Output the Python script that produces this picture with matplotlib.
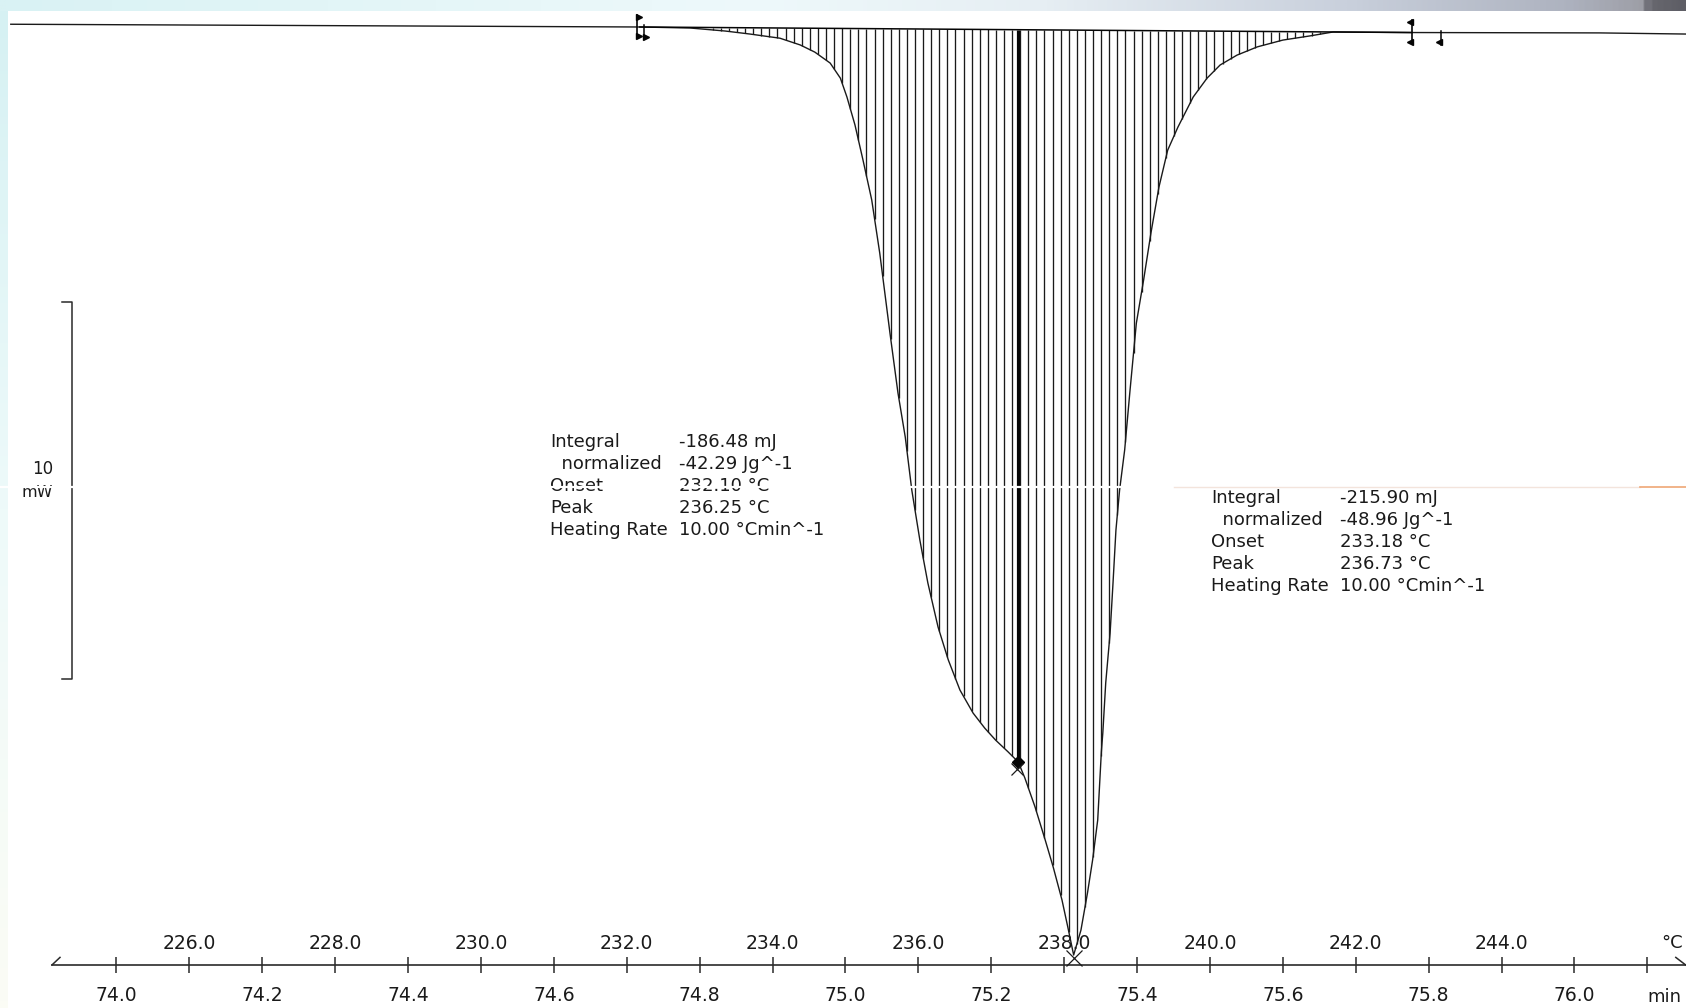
import numpy as np
import matplotlib
matplotlib.use("Agg")
import matplotlib.pyplot as plt
import matplotlib.transforms as mtransforms
from matplotlib.colors import LinearSegmentedColormap

plt.rcParams['font.family'] = ['DejaVu Sans']

# DSC curve, time in min, heat flow in mW
time_min = [73.855, 74.718, 74.787, 74.835, 74.869, 74.910, 74.938, 74.958, 74.979, 74.993,
            75.002, 75.013, 75.024, 75.036, 75.047, 75.061, 75.072, 75.082, 75.091, 75.102,
            75.113, 75.127, 75.141, 75.157, 75.175, 75.191, 75.206, 75.223, 75.237, 75.246,
            75.260, 75.274, 75.285, 75.297, 75.305, 75.313, 75.323, 75.332, 75.339, 75.346,
            75.351, 75.353, 75.357, 75.363, 75.367, 75.371, 75.376, 75.383, 75.390, 75.399,
            75.409, 75.419, 75.430, 75.442, 75.456, 75.477, 75.496, 75.514, 75.537, 75.565,
            75.600, 75.637, 75.669, 75.777, 76.035, 76.153]
heat_flow_mw = [0.10, 0.027, 0.0, -0.08, -0.16, -0.27, -0.45, -0.64, -0.93, -1.33,
                -1.83, -2.57, -3.50, -4.56, -5.97, -8.09, -9.68, -10.85, -12.26, -13.58,
                -14.72, -15.89, -16.76, -17.56, -18.17, -18.57, -18.89, -19.20, -19.47, -19.89,
                -20.66, -21.54, -22.26, -23.13, -23.85, -24.59, -23.93, -22.94, -22.07, -21.01,
                -19.20, -18.70, -17.37, -16.05, -14.72, -13.32, -12.26, -11.19, -9.68, -7.83,
                -6.68, -5.44, -4.22, -3.24, -2.63, -1.83, -1.33, -0.98, -0.72, -0.50,
                -0.32, -0.21, -0.105, -0.12, -0.13, -0.16]

# integration limits and baseline levels at those limits
limit_min = [74.718, 75.777]
limit_mw = [0.027, -0.12]
split_min = 75.237

# axes ticks: minutes below the line, program temperature above
minute_ticks = [74.0, 74.2, 74.4, 74.6, 74.8, 75.0, 75.2, 75.4, 75.6, 75.8, 76.0]
minute_labels = ['74.0', '74.2', '74.4', '74.6', '74.8', '75.0', '75.2', '75.4', '75.6', '75.8', '76.0']
temp_ticks = [226, 228, 230, 232, 234, 236, 238, 240, 242, 244, 246]
temp_labels = ['226.0', '228.0', '230.0', '232.0', '234.0', '236.0', '238.0', '240.0', '242.0', '244.0', '']

scale_bar_mw = 10
scale_mid_mw = -12.27
ref_line_mw = -12.17

result_labels = ['Integral', '  normalized', 'Onset', 'Peak', 'Heating Rate']
first_values = ['-186.48 mJ', '-42.29 Jg^-1', '232.10 °C', '236.25 °C', '10.00 °Cmin^-1']
second_values = ['-215.90 mJ', '-48.96 Jg^-1', '233.18 °C', '236.73 °C', '10.00 °Cmin^-1']

ink = '#1a1a1a'

fig = plt.figure(figsize=(16.86, 10.08), dpi=100)

# slide background: gradient band on top, pale strip on the left
bg = fig.add_axes([0, 0, 1, 1], zorder=0)
band = LinearSegmentedColormap.from_list('band', [
    (0.0, '#d9f2f4'), (0.45, '#eef9fb'), (0.62, '#e6eef3'), (0.8, '#c9d0dc'),
    (0.93, '#aeb3c0'), (0.978, '#9d9ea6'), (0.981, '#68686f'), (1.0, '#5e5e66')])
bg.imshow(np.linspace(0, 1, 600)[None, :], cmap=band, aspect='auto',
          extent=(0, 1, 1 - 11 / 1008, 1))
strip = LinearSegmentedColormap.from_list('strip', ['#d6f1f3', '#eefafa', '#fbfcf5'])
bg.imshow(np.linspace(0, 1, 300)[:, None], cmap=strip, aspect='auto',
          extent=(0, 8 / 1686, 0, 1 - 11 / 1008))
bg.set_xlim(0, 1)
bg.set_ylim(0, 1)
bg.axis('off')

ax = fig.add_axes([0, 0, 1, 1], zorder=1)
ax.patch.set_alpha(0)
ax.set_xlim(73.8402, 76.1530)
ax.set_ylim(-25.995, 0.743)

# hatching between the integration baseline and the signal
hatch_t = np.arange(limit_min[0], limit_min[1], 0.0111)
sig = np.interp(hatch_t, time_min, heat_flow_mw)
base = np.interp(hatch_t, limit_min, limit_mw)
keep = base - sig > 0.05
ax.vlines(hatch_t[keep], sig[keep], base[keep], color=ink, lw=0.95, zorder=2)

split_sig = np.interp(split_min, time_min, heat_flow_mw)
split_base = np.interp(split_min, limit_min, limit_mw)
ax.vlines(split_min, split_sig, split_base, color='#050505', lw=2.3, zorder=3)

ax.plot(time_min, heat_flow_mw, color=ink, lw=1.0, zorder=3)
ax.plot(limit_min, limit_mw, color='#050505', lw=1.1, zorder=3)

# shoulder and peak marks
down7 = mtransforms.offset_copy(ax.transData, fig=fig, y=-7, units='dots')
ax.plot(split_min, split_sig, marker='D', ms=6, color='#050505', zorder=4)
ax.plot(split_min - 0.002, split_sig, marker='x', ms=9, mew=0.9, color=ink,
        transform=down7, zorder=4)
ipk = int(np.argmin(heat_flow_mw))
down3 = mtransforms.offset_copy(ax.transData, fig=fig, y=-3, units='dots')
ax.plot(time_min[ipk], heat_flow_mw[ipk], marker='x', ms=11, mew=0.9, color=ink,
        transform=down3, zorder=4)

# integration limit flags
for t0, lv, side in [(limit_min[0], limit_mw[0], 1), (limit_min[1], limit_mw[1], -1)]:
    tri = '>' if side > 0 else '<'
    t_a = t0 - 0.004 if side > 0 else t0
    t_b = t0 + 0.006 if side > 0 else t0 + 0.040
    ax.plot([t_a, t_a], [lv + 0.33, lv - 0.30], color='#050505', lw=1.2, zorder=4)
    ax.plot([t_a + 0.003 * side] * 2, [lv + 0.27, lv - 0.24], ls='none', marker=tri,
            ms=4.5, color='#050505', zorder=4)
    ax.plot([t_b, t_b], [lv + 0.05, lv - 0.32], color='#050505', lw=1.1, zorder=4)
    ax.plot(t_b + 0.003 * side, lv - 0.26, ls='none', marker=tri, ms=4.5,
            color='#050505', zorder=4)

# 10 mW scale bar
bar_t = 73.939
ax.plot([bar_t - 0.0137, bar_t, bar_t, bar_t - 0.0137],
        [scale_mid_mw + scale_bar_mw / 2, scale_mid_mw + scale_bar_mw / 2,
         scale_mid_mw - scale_bar_mw / 2, scale_mid_mw - scale_bar_mw / 2],
        color='#2a2a2a', lw=1.1, zorder=3)
ax.text(73.9129, scale_mid_mw + 0.58, str(scale_bar_mw), ha='right', va='center',
        fontsize=12, color=ink)
ax.text(73.9129, scale_mid_mw - 0.04, 'mW', ha='right', va='center',
        fontsize=11.5, color=ink)

# result boxes
for x_lab, x_val, y_mid, values in [(74.5947, 74.7713, -12.15, first_values),
                                     (75.5014, 75.6783, -13.63, second_values)]:
    ax.text(x_lab, y_mid, '\n'.join(result_labels), ha='left', va='center',
            fontsize=13, color=ink, linespacing=1.29, zorder=5)
    ax.text(x_val, y_mid, '\n'.join(values), ha='left', va='center',
            fontsize=13, color=ink, linespacing=1.29, zorder=5)

# faint reference line near the scale bar centre
ax.axhline(ref_line_mw, color='white', lw=1.6, zorder=6)
ax.plot([75.45, 76.09], [ref_line_mw] * 2, color='#f3e4dc', lw=1.0, zorder=6)
ax.plot([76.09, 76.153], [ref_line_mw] * 2, color='#efa776', lw=1.2, zorder=6)

# time / temperature axis
axis_pos = 0.0427
for s in ['top', 'left', 'right']:
    ax.spines[s].set_visible(False)
ax.spines['bottom'].set_position(('axes', axis_pos))
ax.spines['bottom'].set_bounds(73.9115, 76.1525)
ax.spines['bottom'].set_color('#2a2a2a')
ax.spines['bottom'].set_linewidth(1.2)
ax.set_yticks([])
ax.set_xticks(minute_ticks, minute_labels)
ax.tick_params(axis='x', direction='inout', length=11, width=1.1, color='#2a2a2a',
               pad=10, labelsize=13.5, labelcolor=ink)

sec = ax.secondary_xaxis(axis_pos, functions=(lambda t: 10 * t - 515,
                                              lambda T: (T + 515) / 10))
sec.set_alignment('top')
sec.spines['top'].set_visible(False)
sec.spines['bottom'].set_visible(False)
sec.set_xticks(temp_ticks, temp_labels)
sec.tick_params(axis='x', direction='inout', length=11, width=1.1, color='#2a2a2a',
                pad=3, labelsize=13.5, labelcolor=ink)

xt = ax.get_xaxis_transform()
ax.plot([73.9115, 73.9225], [axis_pos, axis_pos + 0.0075], transform=xt,
        color='#2a2a2a', lw=1.1, clip_on=False)
ax.plot([76.139, 76.1525], [axis_pos + 0.0075, axis_pos], transform=xt,
        color='#2a2a2a', lw=1.1, clip_on=False)
ax.annotate('°C', xy=(76.134, axis_pos), xycoords=xt, xytext=(0, 16),
            textcoords='offset points', ha='center', va='center', fontsize=13, color=ink)
ax.annotate('min', xy=(76.124, axis_pos), xycoords=xt, xytext=(0, -23),
            textcoords='offset points', ha='center', va='center', fontsize=13, color=ink)

fig.savefig('out.png', dpi=100)
